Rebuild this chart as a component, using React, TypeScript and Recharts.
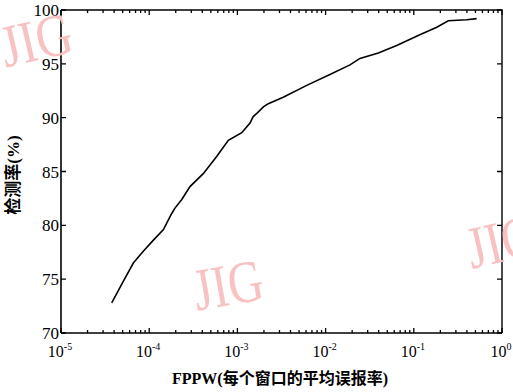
import { LineChart, Line, XAxis, YAxis } from 'recharts'

// FPPW values (log axis) and detection rate (%)
const fppw = [
  3.76e-5, 5.08e-5, 6.61e-5, 8.57e-5, 1.11e-4, 1.45e-4, 1.65e-4, 1.8e-4, 1.96e-4,
  2.34e-4, 2.9e-4, 4.1e-4, 5.82e-4, 7.89e-4, 1.12e-3, 1.39e-3, 1.51e-3, 1.66e-3,
  1.97e-3, 2.24e-3, 3.31e-3, 6.11e-3, 1.12e-2, 1.89e-2, 2.45e-2, 3.96e-2, 6.4e-2,
  0.117, 0.182, 0.246, 0.398, 0.516,
]
const detectionRate = [
  72.8, 74.8, 76.5, 77.6, 78.6, 79.6, 80.5, 81.1, 81.6,
  82.4, 83.6, 84.8, 86.4, 87.9, 88.6, 89.5, 90.1, 90.4,
  91.0, 91.3, 91.9, 93.0, 94.0, 94.9, 95.5, 96.0, 96.7,
  97.7, 98.4, 99.0, 99.1, 99.2,
]
const yTicks = [70, 75, 80, 85, 90, 95, 100]
const decades = [-5, -4, -3, -2, -1, 0]

const xTicks: number[] = []
decades.forEach(e => {
  xTicks.push(Math.pow(10, e))
  if (e < 0) for (let m = 2; m <= 9; m++) xTicks.push(m * Math.pow(10, e))
})

const data = fppw.map((x, i) => ({ x, rate: detectionRate[i] }))

const SERIF = "'Liberation Serif', 'Times New Roman', serif"
const LABEL_FONT = "'Liberation Serif', 'Noto Sans CJK SC', serif"

// plot box edges in page pixels
const TOP = 10
const BOTTOM = 333
const LEFT = 61
const RIGHT = 502

const isMajor = (v: number) => {
  const l = Math.log10(v)
  return Math.abs(l - Math.round(l)) < 1e-6
}

// one x tick: inward marks on both the bottom and top edges, label under the bottom
function XTick(props: any) {
  const { x, payload } = props
  const v = payload.value
  const major = isMajor(v)
  const exp = Math.round(Math.log10(v))
  const len = major ? 5 : 3
  return (
    <g>
      <path d={`M${x},${BOTTOM}V${BOTTOM - len}M${x},${TOP}V${TOP + len}`} stroke="#000" strokeWidth={1.3} fill="none" />
      {major && (
        <text x={x - 1} y={BOTTOM + 24} textAnchor="middle" fontFamily={SERIF} fontSize={16} fill="#000">
          10
          <tspan dy={-7} fontSize={10}>{exp === 0 ? '0' : '-' + -exp}</tspan>
        </text>
      )}
    </g>
  )
}

// one y tick: inward marks on left and right edges, label to the left
function YTick(props: any) {
  const { y, payload } = props
  return (
    <g>
      <path d={`M${LEFT},${y}H${LEFT + 5}M${RIGHT},${y}H${RIGHT - 5}`} stroke="#000" strokeWidth={1.3} fill="none" />
      <text x={LEFT - 2} y={y + 6} textAnchor="end" fontFamily={SERIF} fontSize={17} fill="#000">
        {payload.value}
      </text>
    </g>
  )
}

export default function App() {
  return (
    <div style={{ position: 'absolute', left: 0, top: 0, width: 513, height: 392, background: '#fff' }}>
      <LineChart
        width={513}
        height={392}
        data={data}
        margin={{ top: TOP, right: 513 - RIGHT, bottom: 0, left: 0 }}
      >
        <XAxis
          dataKey="x"
          type="number"
          scale="log"
          domain={[1e-5, 1]}
          ticks={xTicks}
          interval={0}
          allowDataOverflow
          height={392 - BOTTOM}
          tickSize={0}
          tickMargin={0}
          tickLine={false}
          tick={<XTick />}
          axisLine={{ stroke: '#000', strokeWidth: 1.6 }}
          label={{
            content: () => (
              <text x={280} y={384} textAnchor="middle" fontFamily={LABEL_FONT} fontSize={16} fontWeight="bold" fill="#000">
                FPPW(每个窗口的平均误报率)
              </text>
            ),
          }}
        />
        <YAxis
          type="number"
          domain={[70, 100]}
          ticks={yTicks}
          interval={0}
          width={LEFT}
          tickSize={0}
          tickMargin={0}
          tickLine={false}
          tick={<YTick />}
          axisLine={{ stroke: '#000', strokeWidth: 1.6 }}
          label={{
            content: () => (
              <text
                x={19}
                y={175}
                textAnchor="middle"
                transform="rotate(-90 19 175)"
                fontFamily={LABEL_FONT}
                fontSize={17}
                fontWeight="bold"
                fill="#000"
              >
                检测率(%)
              </text>
            ),
          }}
        />
        <Line
          dataKey="rate"
          type="linear"
          stroke="#000"
          strokeWidth={1.6}
          dot={false}
          isAnimationActive={false}
        />
      </LineChart>
      <svg
        width={513}
        height={392}
        style={{ position: 'absolute', left: 0, top: 0, pointerEvents: 'none' }}
      >
        {/* top and right edges of the plot box */}
        <path d={`M${LEFT},${TOP}H${RIGHT}V${BOTTOM}`} stroke="#000" strokeWidth={1.4} fill="none" />
        <g fill="#f9c2c2" fontFamily={SERIF} fontSize={60}>
          <text x={0} y={60} textLength={72} lengthAdjust="spacingAndGlyphs" transform="rotate(-13 36 40)">
            JIG
          </text>
          <text x={193} y={305} textLength={70} lengthAdjust="spacingAndGlyphs" transform="rotate(-10 228 285)">
            JIG
          </text>
          <text x={466} y={262} textLength={70} lengthAdjust="spacingAndGlyphs" transform="rotate(-13 500 240)">
            JIG
          </text>
        </g>
      </svg>
    </div>
  )
}
